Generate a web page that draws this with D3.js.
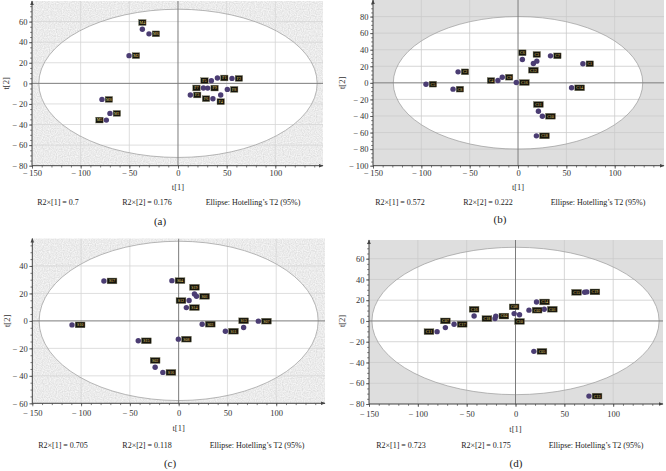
<!DOCTYPE html>
<html>
<head>
<meta charset="utf-8">
<script src="https://d3js.org/d3.v7.min.js"></script>
<style>
  body { margin: 0; background: #fff; }
  text { font-family: "Liberation Serif", "Times New Roman", serif; }
</style>
</head>
<body>
<svg id="chart" width="666" height="471"></svg>
<script>
// ---- data ----
const aX = [-36.6, -29.8, -50.3, -78.1, -69.9, -73.6, 12.7, 26.1, 34.3, 40.5, 55.5, 35.9, 43.9, 50.7, 30.5];
const aY = [52.6, 48.1, 26.9, -15.6, -29.2, -35.7, -11.3, -4.5, 2.6, 5.2, 4.8, -14.9, -11.3, -5.9, -4.6];
const aLab = ["M4", "M6", "M2", "M8", "M1", "M5", "F3", "F7", "F5", "F1", "F2", "F6", "F4", "F8", "F9"];
const aSide = ["t", "r", "r", "r", "r", "l", "r", "l", "l", "r", "r", "l", "b", "r", "r"];

const bX = [-95.2, -67.2, -62.0, -20.8, -16.3, -1.8, 4.5, 15.9, 19.4, 21.1, 25.2, 19.0, 33.6, 67.1, 55.4];
const bY = [-1.6, -7.6, 13.3, 2.8, 6.8, 0.4, 28.2, 23.4, 26.2, -34.2, -40.3, -64.0, 32.6, 23.0, -6.0];
const bLab = ["C5", "C8", "C2", "C4", "C9", "C16", "C6", "C12", "C3", "C11", "C10", "C18", "C7", "C1", "C14"];
const bSide = ["r", "r", "r", "l", "r", "r", "t", "b", "t", "t", "r", "r", "r", "r", "r"];

const cX = [-76.6, -109.3, -41.4, -6.9, 16.2, 18.3, 10.7, 7.9, -0.3, 24.1, 47.9, 66.6, 81.7, -24.1, -16.2];
const cY = [29.1, -2.9, -14.5, 29.3, 19.6, 17.9, 14.8, 9.7, -13.3, -2.4, -7.5, -4.8, -0.2, -33.7, -37.5];
const cLab = ["S17", "S10", "S15", "S04", "S19", "S01", "S12", "S14", "S08", "S03", "S11", "S13", "S07", "S02", "S16"];
const cSide = ["r", "r", "r", "r", "t", "r", "l", "r", "r", "r", "r", "t", "r", "t", "r"];

const dX = [-80.3, -71.8, -62.9, -42.4, -21.0, -20.2, -1.4, 4.1, 13.8, 21.5, 29.4, 18.8, 70.8, 73.0, 75.2];
const dY = [-10.3, -6.4, -3.2, 4.8, 2.3, 4.7, 7.1, 6.0, 10.4, 18.3, 11.3, -29.3, 27.6, 28.0, -72.4];
const dLab = ["C11", "C07", "C17", "C16", "C18", "C04", "C08", "C10", "C02", "C14", "C01", "C05", "C15", "C19", "C13"];
const dSide = ["l", "t", "r", "t", "l", "r", "t", "b", "r", "r", "r", "r", "l", "r", "r"];

const r2Values = [["0.7", "0.176"], ["0.572", "0.222"], ["0.705", "0.118"], ["0.723", "0.175"]];
const captions = ["(a)", "(b)", "(c)", "(d)"];

// ---- panel layout (textOff = centre offsets below the x axis: ticks, title, R2 line, caption) ----
const panels = [
  { x: aX, y: aY, lab: aLab, side: aSide, r2: r2Values[0], cap: captions[0], origin: [0, 0],
    xDom: [-150, 149], yDom: [-80, 80], xr: [32, 323], yr: [165.7, 1], ell: [143, 72], texture: "stipple",
    textOff: [8.6, 22.3, 37.3, 56.3], r2x: [58, 147, 253], capX: 160, ylabX: 7 },
  { x: bX, y: bY, lab: bLab, side: bSide, r2: r2Values[1], cap: captions[1], origin: [333, 0],
    xDom: [-150, 151], yDom: [-100, 100], xr: [40, 331], yr: [165.7, 0], ell: [129, 80], texture: "flat",
    textOff: [8.6, 22.3, 37.3, 54.3], r2x: [67, 155, 265], capX: 167, ylabX: 10 },
  { x: cX, y: cY, lab: cLab, side: cSide, r2: r2Values[2], cap: captions[2], origin: [0, 235],
    xDom: [-150, 150], yDom: [-60, 60], xr: [32.3, 325], yr: [168.3, 3.5], ell: [143, 58], texture: "stipple",
    textOff: [10.7, 25.7, 42.7, 60.7], r2x: [63, 147, 257], capX: 170, ylabX: 8 },
  { x: dX, y: dY, lab: dLab, side: dSide, r2: r2Values[3], cap: captions[3], origin: [333, 235],
    xDom: [-150, 151], yDom: [-80, 78], xr: [36, 330], yr: [169, 5], ell: [147, 71], texture: "flat",
    textOff: [11, 26, 42, 60], r2x: [68, 153, 263], capX: 183, ylabX: 10 }
];

const svg = d3.select("#chart");
const defs = svg.append("defs");

// fine grey noise used behind (a) and (c)
const noise = defs.append("filter").attr("id", "stipple")
  .attr("x", 0).attr("y", 0).attr("width", 1).attr("height", 1);
noise.append("feTurbulence").attr("type", "fractalNoise")
  .attr("baseFrequency", 0.85).attr("numOctaves", 1).attr("seed", 3).attr("result", "n");
noise.append("feColorMatrix").attr("in", "n").attr("type", "matrix")
  .attr("values", "0.36 0 0 0 0.65  0.36 0 0 0 0.65  0.36 0 0 0 0.65  0 0 0 0 1");

const fmt = d => d < 0 ? "\u2212\u2009" + Math.abs(d) : String(d);

panels.forEach((p, i) => {
  const g = svg.append("g").attr("transform", `translate(${p.origin[0]},${p.origin[1]})`);
  const x = d3.scaleLinear().domain(p.xDom).range(p.xr);
  const y = d3.scaleLinear().domain(p.yDom).range(p.yr);
  const [x0, x1] = p.xr, [yb, yt] = p.yr;

  const clipId = "clip" + i;
  defs.append("clipPath").attr("id", clipId)
    .append("rect").attr("x", x0).attr("y", yt).attr("width", x1 - x0).attr("height", yb - yt);

  const plot = g.append("g").attr("clip-path", `url(#${clipId})`);
  const bg = plot.append("rect").attr("x", x0).attr("y", yt).attr("width", x1 - x0).attr("height", yb - yt)
    .attr("fill", "#dedede");
  if (p.texture === "stipple") bg.attr("filter", "url(#stipple)");

  // Hotelling T2 ellipse
  plot.append("ellipse")
    .attr("cx", x(0)).attr("cy", y(0))
    .attr("rx", x(p.ell[0]) - x(0)).attr("ry", y(0) - y(p.ell[1]))
    .attr("fill", "#fff");

  // grid
  const xTicks = d3.range(-150, 101, 50);
  const yTicks = d3.range(Math.ceil(p.yDom[0] / 20) * 20, p.yDom[1] - 10, 20);
  const gridCol = p.texture === "stipple" ? "#d6d6d6" : "#cbcbcb";
  plot.selectAll("line.gx").data(xTicks.filter(v => v !== 0)).join("line")
    .attr("x1", d => x(d)).attr("x2", d => x(d)).attr("y1", yt).attr("y2", yb)
    .attr("stroke", gridCol).attr("stroke-width", 0.8);
  plot.selectAll("line.gy").data(yTicks.filter(v => v !== 0)).join("line")
    .attr("y1", d => y(d)).attr("y2", d => y(d)).attr("x1", x0).attr("x2", x1)
    .attr("stroke", gridCol).attr("stroke-width", 0.8);

  plot.append("ellipse")
    .attr("cx", x(0)).attr("cy", y(0))
    .attr("rx", x(p.ell[0]) - x(0)).attr("ry", y(0) - y(p.ell[1]))
    .attr("fill", "none").attr("stroke", "#9a9a9a").attr("stroke-width", 0.7);

  // zero lines
  plot.append("line").attr("x1", x(0)).attr("x2", x(0)).attr("y1", yt).attr("y2", yb)
    .attr("stroke", "#7c7c7c").attr("stroke-width", 1);
  plot.append("line").attr("x1", x0).attr("x2", x1).attr("y1", y(0)).attr("y2", y(0))
    .attr("stroke", "#7c7c7c").attr("stroke-width", 1);

  // axes
  const xAxis = d3.axisBottom(x).tickValues(xTicks).tickFormat(fmt).tickSize(3);
  const xMinor = d3.axisBottom(x).tickValues(d3.range(-150, 141, 10)).tickFormat("").tickSize(1.8);
  const yAxis = d3.axisLeft(y).tickValues(yTicks).tickFormat(fmt).tickSize(3);
  const yMinor = d3.axisLeft(y).tickValues(d3.range(p.yDom[0], p.yDom[1] - 1, 5)).tickFormat("").tickSize(1.8);

  [xMinor, xAxis].forEach(ax => {
    const a = g.append("g").attr("transform", `translate(0,${yb})`).call(ax);
    a.select(".domain").remove();
    a.selectAll("line").attr("stroke", "#444").attr("stroke-width", 0.7);
    a.selectAll("text").attr("font-size", 8.5).attr("fill", "#333").attr("dy", null)
      .attr("y", p.textOff[0]).attr("dominant-baseline", "middle");
  });
  [yMinor, yAxis].forEach(ax => {
    const a = g.append("g").attr("transform", `translate(${x0},0)`).call(ax);
    a.select(".domain").remove();
    a.selectAll("line").attr("stroke", "#444").attr("stroke-width", 0.7);
    a.selectAll("text").attr("font-size", 8.5).attr("fill", "#333").attr("x", -4.5);
  });

  g.append("line").attr("x1", x0).attr("x2", x0).attr("y1", yb).attr("y2", yt)
    .attr("stroke", "#444").attr("stroke-width", 1);
  g.append("line").attr("x1", x0).attr("x2", x1).attr("y1", yb).attr("y2", yb)
    .attr("stroke", "#444").attr("stroke-width", 1);
  g.append("path").attr("d", `M${x0 - 1.8},${yt + 4}L${x0},${yt - 0.5}L${x0 + 1.8},${yt + 4}Z`).attr("fill", "#444");
  g.append("path").attr("d", `M${x1 - 4},${yb - 1.8}L${x1 + 0.5},${yb}L${x1 - 4},${yb + 1.8}Z`).attr("fill", "#444");

  // observations
  const pts = p.x.map((v, k) => ({ x: v, y: p.y[k], lab: p.lab[k], side: p.side[k] }));
  g.selectAll("circle.obs").data(pts).join("circle")
    .attr("class", "obs")
    .attr("cx", d => x(d.x)).attr("cy", d => y(d.y)).attr("r", 2.7)
    .attr("fill", "#4b3d73");

  const boxH = 5.8;
  const boxW = d => d.lab.length * 2.4 + 2.6;
  const lbl = g.selectAll("g.lbl").data(pts).join("g").attr("class", "lbl")
    .attr("transform", d => {
      const w = boxW(d);
      const cx = x(d.x), cy = y(d.y);
      let bx = cx + 3.2, by = cy - boxH / 2;
      if (d.side === "l") bx = cx - 3.2 - w;
      if (d.side === "t") { bx = cx - w / 2; by = cy - 3.8 - boxH; }
      if (d.side === "b") { bx = cx - w / 2; by = cy + 3.8; }
      return `translate(${bx},${by})`;
    });
  lbl.append("rect")
    .attr("width", boxW).attr("height", boxH)
    .attr("fill", "#15140c").attr("stroke", "#77765a").attr("stroke-width", 0.4);
  lbl.append("text")
    .attr("x", d => boxW(d) / 2).attr("y", boxH / 2 + 1.4)
    .attr("text-anchor", "middle").attr("font-size", 4).attr("fill", "#e8d77a")
    .text(d => d.lab);

  // titles and summary line
  g.append("text").attr("x", x(0)).attr("y", yb + p.textOff[1]).attr("text-anchor", "middle")
    .attr("dominant-baseline", "middle").attr("font-size", 8.5).attr("fill", "#333").text("t[1]");
  g.append("text").attr("transform", `translate(${p.ylabX},${y(0)}) rotate(-90)`)
    .attr("text-anchor", "middle").attr("dominant-baseline", "middle")
    .attr("font-size", 8.5).attr("fill", "#333").text("t[2]");

  const summary = [`R2\u00d7[1] = ${p.r2[0]}`, `R2\u00d7[2] = ${p.r2[1]}`, "Ellipse: Hotelling\u2019s T2 (95%)"];
  g.selectAll("text.sum").data(summary).join("text").attr("class", "sum")
    .attr("x", (d, k) => p.r2x[k]).attr("y", yb + p.textOff[2])
    .attr("text-anchor", "middle").attr("dominant-baseline", "middle")
    .attr("font-size", 8).attr("fill", "#222").text(d => d);

  g.append("text").attr("x", p.capX).attr("y", yb + p.textOff[3])
    .attr("text-anchor", "middle").attr("dominant-baseline", "middle")
    .attr("font-size", 11).attr("fill", "#222").text(p.cap);
});
</script>
</body>
</html>
